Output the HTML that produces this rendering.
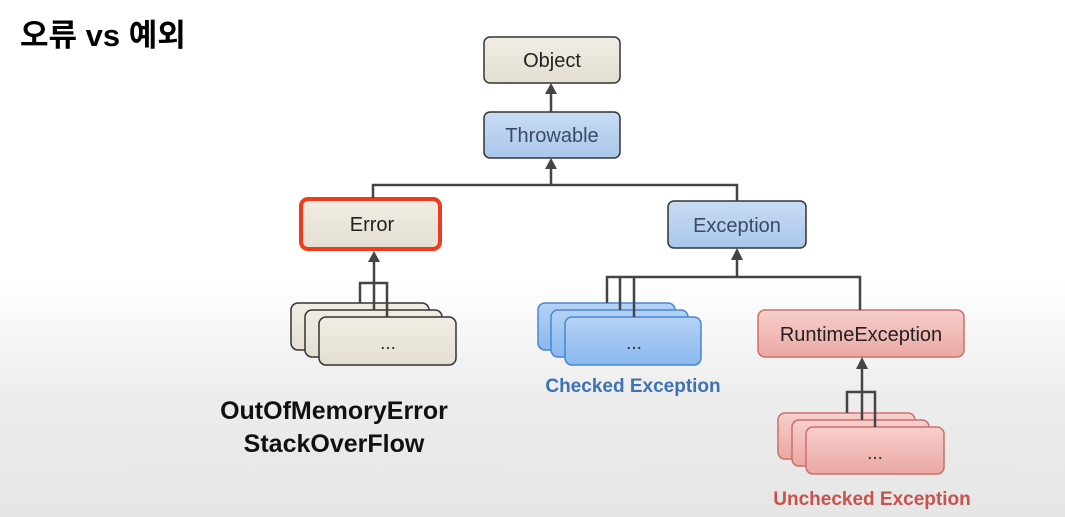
<!DOCTYPE html>
<html><head><meta charset="utf-8"><style>
html,body{margin:0;padding:0;width:1065px;height:517px;overflow:hidden;}
body{background:linear-gradient(to bottom,#ffffff 0px,#ffffff 280px,#ececec 400px,#e6e6e6 517px);}
svg{display:block;}
</style></head><body>
<svg width="1065" height="517" viewBox="0 0 1065 517" xmlns="http://www.w3.org/2000/svg">
<defs>
<linearGradient id="beige" x1="0" y1="0" x2="0" y2="1"><stop offset="0" stop-color="#f1ede4"/><stop offset="1" stop-color="#e4dfd2"/></linearGradient>
<linearGradient id="blue" x1="0" y1="0" x2="0" y2="1"><stop offset="0" stop-color="#c8dcf3"/><stop offset="1" stop-color="#a9c7ec"/></linearGradient>
<linearGradient id="blue2" x1="0" y1="0" x2="0" y2="1"><stop offset="0" stop-color="#b5d2f5"/><stop offset="1" stop-color="#8ab8ef"/></linearGradient>
<linearGradient id="red" x1="0" y1="0" x2="0" y2="1"><stop offset="0" stop-color="#f7cfcc"/><stop offset="1" stop-color="#eba7a3"/></linearGradient>
</defs>
<text x="20" y="46" font-family="'Liberation Sans','Noto Sans CJK KR',sans-serif" font-weight="bold" font-size="31" fill="#000">오류 vs 예외</text>

<g font-family="'Liberation Sans',sans-serif" font-size="20" text-anchor="middle">
<rect x="484" y="37" width="136" height="46" rx="6" fill="url(#beige)" stroke="#333" stroke-width="1.5"/>
<text x="552" y="67" fill="#222">Object</text>
<rect x="484" y="112" width="136" height="46" rx="6" fill="url(#blue)" stroke="#333" stroke-width="1.5"/>
<text x="552" y="142" fill="#3b4a63">Throwable</text>
<rect x="301" y="199" width="139" height="50" rx="7" fill="url(#beige)" stroke="#f03a1e" stroke-width="4"/>
<text x="372" y="231" fill="#222">Error</text>
<rect x="668" y="201" width="138" height="47" rx="6" fill="url(#blue)" stroke="#333" stroke-width="1.5"/>
<text x="737" y="232" fill="#3b4a63">Exception</text>
<rect x="758" y="310" width="206" height="47" rx="7" fill="url(#red)" stroke="#c9706b" stroke-width="1.5"/>
<text x="861" y="341" fill="#222">RuntimeException</text>

<rect x="291" y="303" width="138" height="47" rx="7" fill="url(#beige)" stroke="#333" stroke-width="1.5"/>
<rect x="305" y="310" width="137" height="47" rx="7" fill="url(#beige)" stroke="#333" stroke-width="1.5"/>
<rect x="319" y="317" width="137" height="48" rx="7" fill="url(#beige)" stroke="#333" stroke-width="1.5"/>
<text x="388" y="349" fill="#333" font-size="19">...</text>

<rect x="538" y="303" width="137" height="47" rx="7" fill="url(#blue2)" stroke="#4a86d0" stroke-width="1.5"/>
<rect x="551" y="310" width="137" height="47" rx="7" fill="url(#blue2)" stroke="#4a86d0" stroke-width="1.5"/>
<rect x="565" y="317" width="136" height="48" rx="7" fill="url(#blue2)" stroke="#4a86d0" stroke-width="1.5"/>
<text x="634" y="349" fill="#333" font-size="19">...</text>

<rect x="778" y="413" width="137" height="46" rx="7" fill="url(#red)" stroke="#c9706b" stroke-width="1.5"/>
<rect x="792" y="420" width="137" height="46" rx="7" fill="url(#red)" stroke="#c9706b" stroke-width="1.5"/>
<rect x="806" y="427" width="138" height="47" rx="7" fill="url(#red)" stroke="#c9706b" stroke-width="1.5"/>
<text x="875" y="459" fill="#333" font-size="19">...</text>
</g>

<g stroke="#444" stroke-width="2.5" fill="none">
<path d="M551 112V92"/>
<path d="M551 185V167M373 198V185H737V201"/>
<path d="M374 290V259M360 303V283H374M387 317V283H374M374 283V310"/>
<path d="M737 277V257M607 303V277H860V310M620 310V277M634 317V277"/>
<path d="M862 420V366M847 413V392H862M875 427V392H862"/>
</g>
<g fill="#444">
<path d="M545 94L551 83L557 94Z"/>
<path d="M545 169L551 158L557 169Z"/>
<path d="M368 262L374 251L380 262Z"/>
<path d="M731 260L737 248L743 260Z"/>
<path d="M856 369L862 357L868 369Z"/>
</g>

<g font-family="'Liberation Sans',sans-serif" font-weight="bold" text-anchor="middle">
<text x="334" y="419" font-size="25" fill="#111">OutOfMemoryError</text>
<text x="334" y="452" font-size="25" fill="#111">StackOverFlow</text>
<text x="633" y="392" font-size="19" fill="#3d72b4">Checked Exception</text>
<text x="872" y="505" font-size="19" fill="#c9534c">Unchecked Exception</text>
</g>
</svg>
</body></html>
